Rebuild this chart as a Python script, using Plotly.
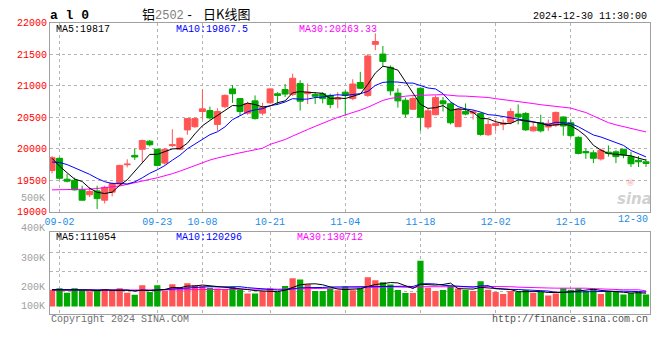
import plotly.graph_objects as go
import pandas as pd

# ---------------- data ----------------
dates = ["08-30",
         "09-02", "09-03", "09-04", "09-05", "09-06",
         "09-09", "09-10", "09-11", "09-12", "09-13",
         "09-18", "09-19", "09-20",
         "09-23", "09-24", "09-25", "09-26", "09-27",
         "09-30",
         "10-08", "10-09", "10-10", "10-11",
         "10-14", "10-15", "10-16", "10-17", "10-18",
         "10-21", "10-22", "10-23", "10-24", "10-25",
         "10-28", "10-29", "10-30", "10-31", "11-01",
         "11-04", "11-05", "11-06", "11-07", "11-08",
         "11-11", "11-12", "11-13", "11-14", "11-15",
         "11-18", "11-19", "11-20", "11-21", "11-22",
         "11-25", "11-26", "11-27", "11-28", "11-29",
         "12-02", "12-03", "12-04", "12-05", "12-06",
         "12-09", "12-10", "12-11", "12-12", "12-13",
         "12-16", "12-17", "12-18", "12-19", "12-20",
         "12-23", "12-24", "12-25", "12-26", "12-27",
         "12-30"]

open_ = [19655, 19850, 19517, 19501, 19348, 19271, 19332, 19184, 19312, 19440,
         19747, 19896, 19993, 20122, 19993, 19773, 20050, 19993, 20301, 20352,
         20593, 20608, 20388, 20670, 20952, 20798, 20567, 20762, 20567, 20731,
         20875, 20942, 20865, 21039, 20875, 20865, 20875, 20849, 20788, 20900,
         20798, 21054, 20849, 21660, 21505, 21295, 20885, 20772, 20629, 20962,
         20347, 20542, 20762, 20716, 20352, 20593, 20567, 20562, 20224, 20370,
         20388, 20424, 20552, 20562, 20286, 20414, 20347, 20373, 20506, 20414,
         20183, 19958, 19937, 19840, 19947, 19952, 19993, 19876, 19819, 19794]
high = [19886, 19860, 19604, 19542, 19414, 19389, 19414, 19414, 19466, 19747,
        19834, 20004, 20147, 20142, 20004, 20014, 20311, 20183, 20490, 20500,
        20942, 20670, 20644, 20865, 21013, 20808, 20747, 20849, 20731, 20962,
        20900, 21029, 21193, 21090, 21039, 20900, 20900, 20875, 20900, 20926,
        21106, 21223, 21505, 21834, 21634, 21326, 20962, 20814, 20834, 20977,
        20644, 20849, 20824, 20737, 20644, 20721, 20618, 20578, 20465, 20465,
        20465, 20644, 20706, 20583, 20414, 20542, 20465, 20593, 20516, 20465,
        20199, 20004, 19978, 20004, 20055, 19978, 19993, 19952, 19886, 19840]
low = [19609, 19517, 19466, 19337, 19180, 19235, 19045, 19133, 19245, 19414,
       19706, 19824, 19788, 20040, 19722, 19747, 20029, 19978, 20224, 20330,
       20466, 20465, 20286, 20644, 20731, 20532, 20542, 20465, 20532, 20721,
       20695, 20824, 20839, 20608, 20711, 20711, 20721, 20644, 20644, 20542,
       20772, 20952, 20824, 21567, 21311, 20849, 20655, 20501, 20619, 20286,
       20311, 20532, 20593, 20388, 20347, 20532, 20465, 20209, 20204, 20286,
       20296, 20388, 20388, 20286, 20275, 20260, 20286, 20347, 20209, 20183,
       19911, 19840, 19773, 19814, 19876, 19773, 19850, 19712, 19712, 19712]
close = [19860, 19532, 19486, 19348, 19184, 19322, 19209, 19389, 19450, 19737,
         19757, 19870, 20132, 20065, 19737, 19993, 20065, 20168, 20481, 20480,
         20635, 20491, 20593, 20849, 20875, 20593, 20721, 20480, 20660, 20952,
         20849, 20870, 21121, 20757, 20900, 20834, 20798, 20706, 20808, 20849,
         21029, 20962, 21475, 21705, 21388, 20921, 20762, 20552, 20798, 20501,
         20603, 20813, 20716, 20414, 20629, 20552, 20588, 20229, 20388, 20400,
         20409, 20593, 20506, 20301, 20347, 20286, 20404, 20578, 20363, 20209,
         19927, 19937, 19850, 19978, 19927, 19876, 19901, 19763, 19794, 19768]
volume = [140000, 153000, 115000, 153000, 138000, 127000, 129000, 146000, 135000, 153000,
          115000, 97000, 178000, 121000, 178000, 132000, 186000, 162000, 194000, 180000,
          173000, 156000, 151000, 146000, 162000, 140000, 108000, 108000, 129000, 153000,
          121000, 170000, 235000, 226000, 186000, 129000, 129000, 148000, 135000, 167000,
          135000, 153000, 243000, 218000, 202000, 183000, 138000, 113000, 113000, 382000,
          156000, 129000, 138000, 170000, 151000, 138000, 129000, 210000, 140000, 121000,
          105000, 129000, 121000, 138000, 113000, 121000, 91000, 108000, 153000, 140000,
          153000, 129000, 143000, 105000, 121000, 124000, 100000, 113000, 118000, 100000]

# moving-average values at the left edge (window reaches before the first bar)
ma5_head = [19850, 19725, 19620, 19520]
ma10_head = [19790, 19783, 19750, 19700, 19645, 19595, 19530, 19478, 19450]
ma30_head = [19348, 19348, 19350, 19352, 19355, 19360, 19370, 19380, 19392, 19410,
             19435, 19465, 19490, 19515, 19540, 19570, 19605, 19645, 19690, 19740,
             19785, 19822, 19855, 19885, 19912, 19937, 19960, 19982, 20010]
vma5_head = [138000, 139000, 139000, 140000]
vma10_head = [142000, 142000, 142000, 141000, 141000, 140000, 140000, 139000, 139000]
vma30_head = [135000, 135000, 135000, 135000, 135000, 135000, 134000, 134000, 134000, 134000,
              133000, 133000, 134000, 135000, 136000, 137000, 138000, 139000, 140000, 141000,
              142000, 142000, 142000, 143000, 143000, 143000, 143000, 143000, 144000]

price_ticks = [19000, 19500, 20000, 20500, 21000, 21500, 22000]
date_ticks = ["09-02", "09-23", "10-08", "10-21", "11-04", "11-18", "12-02", "12-16"]
last_date_label = "12-30"
vol_labels = ["500K", "400K", "300K", "200K", "100K"]

title_parts = ["铝", "2502", "-", "日K线图"]
ma_price_text = ["MA5:19817", "MA10:19867.5", "MA30:20263.33"]
ma_vol_text = ["MA5:111054", "MA10:120296", "MA30:130712"]
stamp = "2024-12-30 11:30:00"


# ---------------- helpers ----------------
def moving_avg(values, n, head):
    s = pd.Series(values, dtype=float).rolling(n).mean()
    s.iloc[:len(head)] = head
    return s.tolist()


UP = "#FF5555"
DOWN = "#00A800"
MONO = "Liberation Mono, DejaVu Sans Mono, monospace"
CJK = "Noto Sans CJK SC"
W, H = 660, 360
L, R = 50, 10
PW = W - L - R


def ax_x(px):
    return (px - L) / PW


def ax_y(py):
    return 1 - py / H


colors = [UP if c >= o else DOWN for o, c in zip(open_, close)]

fig = go.Figure()

fig.add_trace(go.Candlestick(
    x=dates, open=open_, high=high, low=low, close=close,
    increasing=dict(line=dict(color=UP, width=1), fillcolor=UP),
    decreasing=dict(line=dict(color=DOWN, width=1), fillcolor=DOWN),
    whiskerwidth=0, xaxis="x", yaxis="y", showlegend=False, hoverinfo="skip"))

for n, head, col in [(30, ma30_head, "#FF00FF"), (10, ma10_head, "#0000FF"), (5, ma5_head, "#000000")]:
    fig.add_trace(go.Scatter(x=dates, y=moving_avg(close, n, head), mode="lines",
                             line=dict(color=col, width=1), xaxis="x", yaxis="y",
                             showlegend=False, hoverinfo="skip"))

fig.add_trace(go.Bar(x=dates, y=volume, marker=dict(color=colors, line=dict(width=0)),
                     xaxis="x2", yaxis="y2", showlegend=False, hoverinfo="skip"))

for n, head, col in [(30, vma30_head, "#FF00FF"), (10, vma10_head, "#0000FF"), (5, vma5_head, "#000000")]:
    fig.add_trace(go.Scatter(x=dates, y=moving_avg(volume, n, head), mode="lines",
                             line=dict(color=col, width=1), xaxis="x2", yaxis="y2",
                             showlegend=False, hoverinfo="skip"))

grid = dict(showgrid=True, gridcolor="#B4B4B4", griddash="dot", gridwidth=1,
            showline=True, linecolor="#A0A0A0", linewidth=1, mirror=True,
            zeroline=False, ticks="")
xr = [-0.27, 79.53]

annotations = []


def ann(text, px, py, xanchor="left", color="#000", size=10, family=MONO, **kw):
    annotations.append(dict(text=text, x=ax_x(px), y=ax_y(py), xref="paper", yref="paper",
                            xanchor=xanchor, yanchor="middle", showarrow=False,
                            font=dict(color=color, size=size, family=family), **kw))


ann("<b>a l 0</b>", 48, 11, size=13)
ann(title_parts[0], 140, 9, size=13, family=CJK)
ann(title_parts[1], 153, 11, size=12, family=MONO, color="#808080")
ann(title_parts[2], 189, 11, xanchor="center", size=12, family=MONO)
ann(title_parts[3], 201, 9, size=13, family=CJK)
ann(stamp, 649, 12, xanchor="right", size=10)
ann(ma_price_text[0], 54, 25)
ann(ma_price_text[1], 174, 25, color="#0000FF")
ann(ma_price_text[2], 297, 25, color="#FF00FF")
ann(ma_vol_text[0], 54, 240)
ann(ma_vol_text[1], 174, 240, color="#0000FF")
ann(ma_vol_text[2], 295, 240, color="#FF00FF")
for lab, py in zip(vol_labels, [200, 231, 261, 291, 311]):
    ann(lab, 47, py, xanchor="right", color="#A0A0A0")
ann(last_date_label, 650, 221, xanchor="right", color="#1C8CE8")
ann("Copyright 2024 SINA.COM", 49, 324, color="#707070")
ann("http://finance.sina.com.cn", 650, 324, xanchor="right", color="#505050")
ann("<b><i>sina</i></b>", 634, 200, xanchor="center", color="rgba(170,170,170,0.55)",
    size=15, family="DejaVu Sans")
ann("◉", 630, 182, xanchor="center", color="rgba(240,150,150,0.45)", size=10,
    family="DejaVu Sans")

fig.update_layout(
    width=W, height=H, autosize=False,
    margin=dict(l=L, r=R, t=0, b=0),
    paper_bgcolor="white", plot_bgcolor="white",
    boxgap=0.2, boxgroupgap=0, bargap=0.17,
    showlegend=False,
    xaxis=dict(domain=[0, 1], anchor="y", type="category", range=xr,
               tickvals=date_ticks, ticktext=date_ticks,
               tickfont=dict(color="#1C8CE8", size=10, family=MONO),
               rangeslider=dict(visible=False), **grid),
    xaxis2=dict(domain=[0, 1], anchor="y2", type="category", range=xr,
                tickvals=date_ticks, showticklabels=False, matches="x", **grid),
    yaxis=dict(domain=[ax_y(213.3), ax_y(18.5)], anchor="x", range=[19000, 22000],
               tickvals=price_ticks, ticktext=[str(v) for v in price_ticks],
               tickfont=dict(color="#FF0000", size=10, family=MONO), **grid),
    yaxis2=dict(domain=[ax_y(318.3), ax_y(234.3)], anchor="x2", range=[-59000, 620000],
                tickvals=[127000, 289000, 450000], showticklabels=False, **grid),
    annotations=annotations,
)

fig.write_html("out.html", config={"displayModeBar": False},
               post_script="document.body.style.margin='0';document.body.style.padding='0';")
